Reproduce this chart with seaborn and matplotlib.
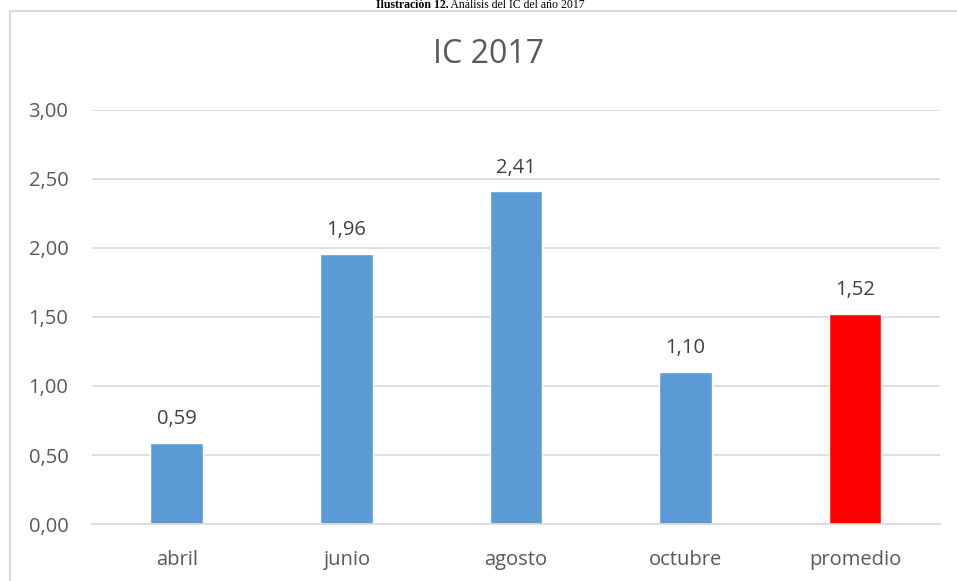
import matplotlib
matplotlib.use("Agg")
import matplotlib.pyplot as plt
import seaborn as sns
import pandas as pd
from matplotlib.patches import Rectangle
from matplotlib.ticker import FixedLocator, FuncFormatter

months = ["abril", "junio", "agosto", "octubre", "promedio"]
ic_values = [0.59, 1.96, 2.41, 1.10, 1.52]
bar_colors = ["#5B9BD5", "#5B9BD5", "#5B9BD5", "#5B9BD5", "#FF0000"]
y_ticks = [0.0, 0.5, 1.0, 1.5, 2.0, 2.5, 3.0]

sns.set_theme(style="white")
plt.rcParams["font.family"] = ["Open Sans", "DejaVu Sans"]

df = pd.DataFrame({"mes": months, "ic": ic_values})

fig = plt.figure(figsize=(9.57, 5.81), dpi=100)
ax = fig.add_axes([0.0961, 0.0981, 0.8861, 0.7126])

sns.barplot(data=df, x="mes", y="ic", hue="mes", palette=bar_colors,
            legend=False, width=0.31, ax=ax, saturation=1)

ax.set_ylim(0, 3.0)
ax.set_xlim(-0.5, len(months) - 0.5)
ax.yaxis.set_major_locator(FixedLocator(y_ticks))
ax.yaxis.set_major_formatter(FuncFormatter(lambda v, p: f"{v:.2f}".replace(".", ",")))
ax.grid(axis="y", color="#D9D9D9", linewidth=1.2)
ax.set_axisbelow(True)
for s in ["top", "right", "left"]:
    ax.spines[s].set_visible(False)
ax.spines["bottom"].set_color("#D9D9D9")
ax.spines["bottom"].set_linewidth(1.2)
ax.set_xlabel("")
ax.set_ylabel("")
ax.tick_params(axis="both", length=0, labelsize=14.5, colors="#595959")
ax.tick_params(axis="y", pad=17)
ax.tick_params(axis="x", pad=19)

for i, v in enumerate(ic_values):
    ax.text(i, v + 0.1, f"{v:.2f}".replace(".", ","), ha="center", va="bottom",
            fontsize=14.5, color="#404040")

fig.text(0.511, 0.906, "IC 2017", ha="center", va="center", fontsize=23, color="#595959")

# chart frame (extends past the right and bottom edges)
fig.patches.append(Rectangle((10 / 957, -0.1), 1.2, 1.1 - 11 / 581,
                             transform=fig.transFigure, fill=False,
                             edgecolor="#D9D9D9", linewidth=1.5))

# caption above the chart frame
fig.canvas.draw()
renderer = fig.canvas.get_renderer()
cap_y = 1.0 - 5.5 / 581
t1 = fig.text(0.0, cap_y, "Ilustración 12.", ha="left", va="center",
              fontsize=8.5, fontweight="bold", family=["Liberation Serif"], color="black")
t2 = fig.text(0.0, cap_y, " Análisis del IC del año 2017", ha="left", va="center",
              fontsize=8.5, family=["Liberation Serif"], color="black")
w1 = t1.get_window_extent(renderer).width / fig.bbox.width
w2 = t2.get_window_extent(renderer).width / fig.bbox.width
x0 = 0.502 - (w1 + w2) / 2
t1.set_x(x0)
t2.set_x(x0 + w1)

fig.savefig("out.png", dpi=100)
